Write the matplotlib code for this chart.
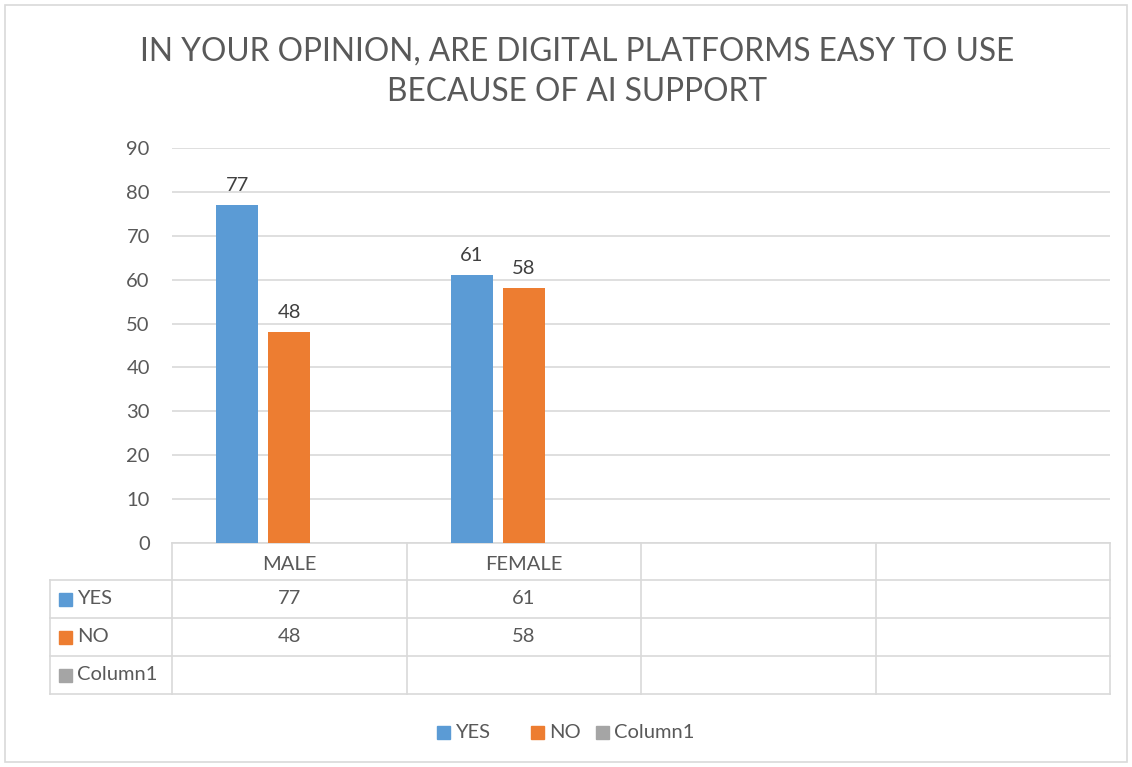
import matplotlib
matplotlib.use("Agg")
import matplotlib.pyplot as plt
from matplotlib.patches import Rectangle
import numpy as np

# chart data
categories = ["MALE", "FEMALE", "", ""]
series_names = ["YES", "NO", "Column1"]
yes_vals = [77, 61, None, None]
no_vals = [48, 58, None, None]
col1_vals = [None, None, None, None]
colors = ["#5b9bd5", "#ed7d31", "#a5a5a5"]
title = "IN YOUR OPINION, ARE DIGITAL PLATFORMS EASY TO USE\nBECAUSE OF AI SUPPORT"

plt.rcParams["font.family"] = ["Lato", "DejaVu Sans"]
txt = "#595959"
grid_c = "#d9d9d9"
fs = 14.5

W, H = 1132, 767
fig = plt.figure(figsize=(W / 100, H / 100), dpi=100)

# plot area in pixels
left, right, top, bottom = 172, 1110, 148, 543
ax = fig.add_axes([left / W, 1 - bottom / H, (right - left) / W, (bottom - top) / H])

n = len(categories)
x = np.arange(n) + 0.5
bw = 0.179
gap = 0.0426
all_vals = [yes_vals, no_vals, col1_vals]
for i, (vals, c) in enumerate(zip(all_vals, colors)):
    off = (i - 1) * (bw + gap)
    for xi, v in zip(x, vals):
        if v is None:
            continue
        ax.bar(xi + off, v, width=bw, color=c, zorder=3)
        ax.text(xi + off, v + 2.6, str(v), ha="center", va="bottom",
                fontsize=fs, color="#404040")

ax.set_xlim(0, n)
ax.set_ylim(0, 90)
ax.set_yticks(range(0, 91, 10))
ax.set_xticks([])
ax.tick_params(axis="y", length=0, labelsize=fs, labelcolor=txt, pad=16)
ax.yaxis.grid(True, color=grid_c, lw=1.2, zorder=0)
for s in ["left", "right", "top"]:
    ax.spines[s].set_visible(False)
ax.spines["bottom"].set_color(grid_c)
ax.spines["bottom"].set_linewidth(1.2)

# data table below the axes (axes coords)
ph = bottom - top
pw = right - left
row_px = [543, 580, 618, 656, 694]
row_y = [-(r - bottom) / ph for r in row_px]
lab_x = (50 - left) / pw
col_x = [i / n for i in range(n + 1)]
lk = dict(color=grid_c, lw=1.2, transform=ax.transAxes, clip_on=False)

for y in row_y[1:]:
    ax.plot([lab_x, 1], [y, y], **lk)
for cx in col_x:
    ax.plot([cx, cx], [row_y[0], row_y[-1]], **lk)
ax.plot([lab_x, lab_x], [row_y[1], row_y[-1]], **lk)

# header row
for i, cat in enumerate(categories):
    ax.text((col_x[i] + col_x[i + 1]) / 2, (row_y[0] + row_y[1]) / 2 - 3 / ph, cat,
            transform=ax.transAxes, ha="center", va="center",
            fontsize=fs, color=txt)

# series rows
for r, (name, vals, c) in enumerate(zip(series_names, all_vals, colors)):
    yc = (row_y[r + 1] + row_y[r + 2]) / 2
    sq_w = 13 / pw
    sq_h = 13 / ph
    ax.add_patch(Rectangle((lab_x + 9 / pw, yc - sq_h / 2), sq_w, sq_h,
                           color=c, transform=ax.transAxes, clip_on=False))
    ax.text(lab_x + 27 / pw, yc, name, transform=ax.transAxes,
            ha="left", va="center", fontsize=fs, color=txt)
    for i, v in enumerate(vals):
        if v is None:
            continue
        ax.text((col_x[i] + col_x[i + 1]) / 2, yc, str(v), transform=ax.transAxes,
                ha="center", va="center", fontsize=fs, color=txt)

# title
fig.text(577 / W, 1 - 72 / H, title, ha="center", va="center",
         fontsize=22.8, color=txt, linespacing=1.42)

# legend
lx = [437, 531, 596]
for name, c, px in zip(series_names, colors, lx):
    fig.patches.append(Rectangle((px / W, 1 - 739 / H), 13 / W, 13 / H,
                                 color=c, transform=fig.transFigure))
    fig.text((px + 18) / W, 1 - 732 / H, name, ha="left", va="center",
             fontsize=fs, color=txt)

# outer chart border
fig.patches.append(Rectangle((5 / W, 5 / H), (W - 10) / W, (H - 10) / H,
                             fill=False, edgecolor=grid_c, lw=1.2,
                             transform=fig.transFigure))

fig.savefig("out.png", dpi=100, facecolor="white")
